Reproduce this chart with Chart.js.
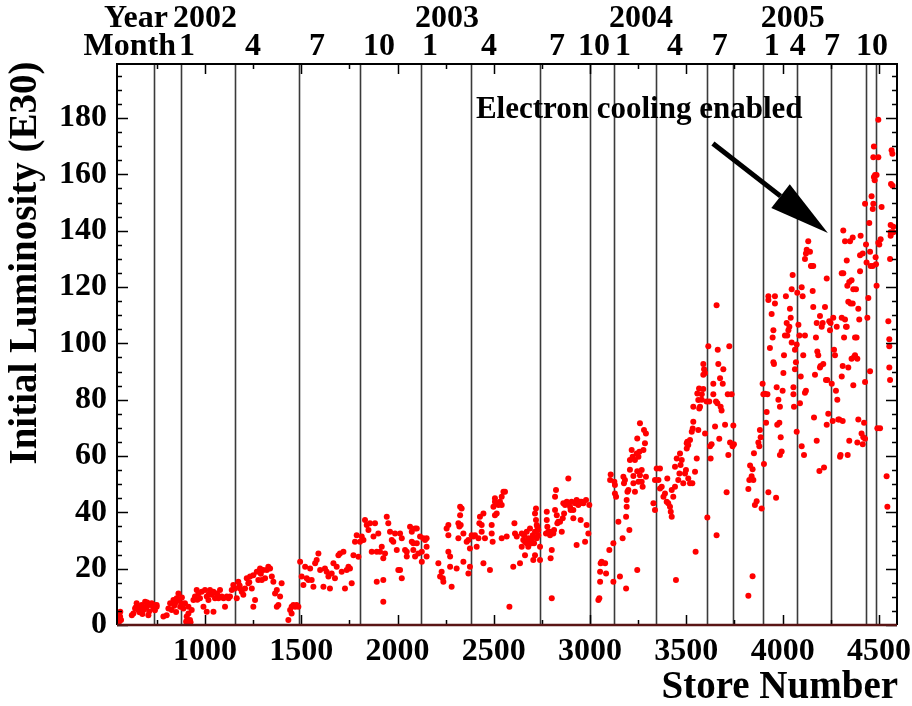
<!DOCTYPE html>
<html>
<head>
<meta charset="utf-8">
<script src="https://cdn.jsdelivr.net/npm/chart.js@4.4.1/dist/chart.umd.min.js"></script>
<style>
  html, body { margin: 0; padding: 0; background: #fff; }
</style>
</head>
<body>
<canvas id="lumChart" width="912" height="706"></canvas>
<script>
// Initial luminosity (E30) per store number as [store, lum]
// stores 550 - 1490
const storesEarly2002 = [
  [560,4.7],[559,3.0],[564,1.8],[555,1.2],
  [628,4.1],[637,5.9],[645,7.7],[654,5.3],[663,6.5],[671,7.1],[680,5.3],[689,8.3],[697,6.5],[706,3.5],
  [715,7.1],[723,7.7],[732,5.9],[749,6.5],[749,7.1],[620,3.5],[640,6.2],[660,4.5],[700,8.0],[740,7.0],
  [660,5.5],[690,6.0],[710,4.8],[675,3.9],[740,5.2],[700,7.4],
  [784,3.0],[801,3.5],[810,5.9],[819,7.7],[827,5.3],[836,8.9],[845,7.7],[853,9.5],[862,11.2],[871,6.5],
  [879,7.7],[888,5.9],[896,7.7],[905,3.0],[914,4.1],[922,1.8],[902,1.2],[931,5.3],[914,6.5],[905,0.8],[925,1.0],
  [840,6.8],[860,8.6],[880,9.8],[850,4.6],
  [940,8.9],[948,10.1],[957,12.4],[966,11.2],[974,9.5],[983,11.8],[992,6.5],[1000,12.4],[1009,10.1],[1018,8.9],
  [1026,12.4],[1035,10.7],[1044,11.8],[1052,9.5],[1061,11.2],[1070,9.5],[1078,12.4],[1087,10.1],[1096,9.5],
  [1104,6.5],[1113,10.1],[1122,9.5],[1130,10.1],[1009,4.7],[1044,4.7],[960,9.0],[1020,11.0],[1066,10.6],
  [1139,12.4],[1147,14.2],[1156,13.0],[1165,9.5],[1173,15.4],[1182,13.0],[1191,11.8],[1199,10.7],[1208,13.0],
  [1217,16.6],[1225,14.8],[1234,17.2],[1243,13.0],[1251,17.7],[1260,8.9],[1251,6.5],[1269,18.9],[1277,16.0],
  [1286,20.1],[1295,16.0],[1303,19.5],[1312,16.6],[1321,19.5],[1329,20.7],[1338,20.1],[1347,17.2],[1355,15.4],
  [1364,11.2],[1373,12.4],[1381,7.1],[1390,10.1],[1398,14.8],[1373,6.5],[1180,14.0],[1230,15.2],[1290,18.2],
  [1433,1.8],[1442,5.3],[1450,6.5],[1459,7.1],[1468,6.5],[1476,7.1],[1485,6.5],[1450,4.1]
];

// stores 1490 - 2010
const storesLate2002 = [
  [1494,22.5],[1502,17.2],[1511,14.2],[1520,20.7],[1528,16.6],[1537,16.0],[1546,20.1],[1554,16.0],[1563,13.6],
  [1572,21.9],[1580,23.1],[1589,25.4],[1598,19.5],[1615,13.6],[1623,20.1],[1632,18.9],[1641,17.2],[1649,13.0],
  [1658,18.3],[1667,21.9],[1675,16.6],[1684,20.7],[1693,24.8],[1701,25.4],[1710,18.9],[1719,26.0],[1727,13.0],
  [1736,19.5],[1745,20.7],[1753,20.1],[1762,14.8],[1771,24.8],[1779,29.6],[1788,31.9],[1797,24.2],[1805,29.6],
  [1814,31.4],[1823,30.2],[1831,37.3],[1840,35.5],[1849,33.7],[1857,36.1],[1866,26.0],[1875,31.4],[1883,36.1],
  [1892,26.0],[1900,32.5],[1909,26.0],[1918,27.8],[1926,23.7],[1935,25.4],[1944,38.4],[1952,36.1],[1961,33.1],
  [1970,30.2],[1978,29.6],[1987,32.5],[1996,26.6],[2004,19.5],[1892,15.4],[1926,16.0],[1926,8.3]
];

// stores 2010 - 3000
const stores2003 = [
  [2013,32.5],[2022,30.8],[2013,19.5],[2022,16.6],[2039,26.6],[2048,26.0],[2048,24.3],[2065,34.9],[2074,33.1],
  [2082,29.0],[2082,26.6],[2091,24.3],[2091,34.3],[2100,34.3],[2100,29.0],[2108,25.4],[2117,31.4],[2126,26.0],
  [2126,22.5],[2134,30.8],[2143,30.2],[2151,30.8],[2151,27.8],[2151,24.3],[2074,29.6],
  [2212,21.9],[2221,17.2],[2229,18.9],[2235,16.6],[2238,15.4],[2255,34.3],[2264,35.5],[2264,31.9],[2264,26.0],
  [2273,24.3],[2273,20.7],[2281,13.6],[2307,20.1],[2316,30.8],[2316,36.1],[2325,42.0],[2325,39.0],[2333,41.4],
  [2342,32.5],[2342,22.5],[2359,29.6],[2368,30.2],[2368,18.3],[2376,20.7],[2376,27.2],[2321,35.0],[2328,35.5],
  [2385,31.9],[2394,31.4],[2402,31.9],[2411,27.8],[2420,30.8],[2425,36.1],[2428,38.4],[2437,35.5],[2437,33.1],
  [2446,21.9],[2446,39.6],[2454,30.8],[2480,19.5],[2489,35.5],[2489,32.5],[2494,29.6],[2498,42.0],[2506,39.0],
  [2506,43.8],[2506,45.0],[2515,39.6],[2515,43.2],[2524,42.6],[2532,43.8],[2541,45.5],[2541,42.6],[2550,47.3],
  [2558,47.3],[2541,30.8],[2567,31.4],[2581,6.5],
  [2601,20.7],[2607,36.1],[2610,32.5],[2619,31.4],[2636,21.9],[2645,32.5],[2645,27.8],[2653,30.2],[2657,31.9],
  [2662,29.6],[2662,24.8],[2671,33.1],[2671,29.0],[2679,30.8],[2679,27.8],[2688,34.3],[2688,29.6],[2697,30.2],
  [2697,29.0],[2705,31.4],[2705,23.1],[2709,29.0],[2714,33.1],[2714,39.6],[2714,24.8],[2719,37.3],[2719,41.4],
  [2723,35.5],[2726,34.9],[2731,33.7],[2731,31.9],[2740,27.8],[2740,23.1],[2723,30.8],[2702,31.9],
  [2771,32.5],[2775,40.2],[2775,37.3],[2778,34.9],[2783,33.1],[2792,31.9],[2792,33.1],[2795,23.7],[2801,26.6],
  [2801,9.5],[2809,32.5],[2813,33.7],[2818,45.5],[2818,40.8],[2823,47.9],[2827,39.0],[2830,36.1],[2835,36.7],
  [2844,36.7],[2853,33.1],[2858,37.9],[2861,43.2],[2865,39.6],[2870,42.6],[2879,43.8],[2887,52.0],[2887,43.2],
  [2896,42.0],[2899,40.8],[2904,43.8],[2913,40.8],[2913,37.9],[2922,43.2],[2930,44.4],[2930,28.4],[2939,42.6],
  [2948,43.2],[2948,43.8],[2951,37.3],[2956,43.8],[2965,43.2],[2974,29.6],[2979,44.4],[2982,35.5],[2991,32.5],
  [2996,42.6]
];

// stores 3000 - 3750
const stores2004 = [
  [3043,8.9],[3048,9.5],[3052,15.4],[3052,18.9],[3055,21.9],[3060,22.5],[3078,21.9],[3083,18.3],[3100,26.6],
  [3107,53.4],[3104,51.5],[3121,29.0],[3121,15.4],[3126,50.9],[3129,49.7],[3129,46.7],[3135,45.5],[3147,36.7],
  [3155,17.2],[3169,30.8],[3173,52.6],[3176,50.3],[3181,51.5],[3187,13.0],[3187,38.4],[3190,42.0],[3190,44.4],
  [3194,47.3],[3199,47.9],[3204,33.7],[3207,55.1],[3207,58.6],[3216,62.1],[3221,59.7],[3225,52.9],[3225,50.3],
  [3233,58.6],[3233,47.3],[3242,60.9],[3245,54.6],[3245,66.2],[3251,50.9],[3251,59.7],[3256,61.5],[3259,53.2],
  [3259,71.6],[3268,55.0],[3273,49.1],[3277,62.1],[3280,69.2],[3285,64.5],[3290,52.6],[3290,68.0],[3245,19.5],
  [3268,50.9],
  [3329,43.2],[3337,40.8],[3337,51.5],[3346,55.6],[3355,51.5],[3363,55.6],[3363,48.5],[3372,49.1],[3381,45.5],
  [3389,46.7],[3398,43.8],[3401,52.0],[3406,43.2],[3415,42.0],[3419,40.2],[3424,38.4],[3424,47.9],[3432,45.5],
  [3441,49.1],[3441,56.2],[3446,16.0],[3450,59.1],[3458,51.5],[3464,53.8],[3467,60.9],[3470,56.8],[3476,58.6],
  [3484,50.3],[3493,53.8],[3498,55.0],[3502,64.5],[3505,65.1],[3510,63.9],[3510,52.0],[3519,50.3],[3528,68.6],
  [3531,50.3],[3533,69.8],[3536,72.2],[3536,77.5],[3545,54.4],[3548,26.0],[3554,59.1],[3557,82.2],[3562,79.9],
  [3566,84.0],[3567,76.9],[3562,69.2],[3519,65.7],[3502,62.7],
  [3571,77.5],[3580,80.0],[3580,81.9],[3588,83.8],[3588,92.7],[3592,90.8],[3597,89.5],[3588,88.9],[3597,68.0],
  [3605,79.4],[3609,38.2],[3614,99.0],[3619,79.4],[3623,63.5],[3626,59.1],[3631,64.2],[3640,85.7],[3640,81.9],
  [3649,70.5],[3654,79.4],[3657,113.5],[3657,31.9],[3661,78.7],[3663,97.7],[3666,92.7],[3671,66.1],[3675,87.6],
  [3678,77.5],[3683,76.2],[3689,85.7],[3692,90.8],[3701,71.1],[3709,47.1],[3715,81.9],[3718,60.4],[3723,99.0],
  [3727,64.8],[3735,81.9],[3740,63.5],[3744,70.8],[3747,64.2]
];

// stores 3800 - 4600
const stores2005 = [
  [3822,10.4],[3844,17.3],[3822,48.3],[3827,51.5],[3831,56.6],[3839,52.8],[3844,55.3],[3848,51.5],[3851,61.0],
  [3856,42.6],[3865,43.9],[3874,64.8],[3879,63.5],[3882,69.2],[3886,66.7],[3891,41.4],[3896,85.7],[3900,81.9],
  [3903,57.2],[3908,82.1],[3914,71.8],[3917,75.6],[3921,81.9],[3926,47.1],
  [3926,116.7],[3926,115.4],[3934,98.4],[3943,110.4],[3948,102.1],[3952,104.7],[3952,93.3],[3955,92.7],
  [3960,116.7],[3960,114.2],[3966,45.2],[3969,84.4],[3972,71.1],[3978,80.0],[3983,71.8],[3986,77.5],[3986,60.4],
  [3990,66.7],[3995,61.6],[4000,83.2],[4004,89.5],[4007,95.8],[4012,102.8],[4017,116.7],[4021,107.2],[4024,102.8],
  [4030,104.7],[4035,105.9],[4038,112.3],[4042,109.1],[4047,119.2],[4047,100.3],[4052,124.3],[4056,84.4],
  [4056,81.9],[4059,77.5],[4064,97.7],[4064,90.8],[4069,93.3],[4073,68.6],[4073,99.6],[4076,118.0],[4082,106.6],
  [4087,102.8],[4090,78.7],[4094,88.2],[4099,119.9],[4099,63.5],[4104,116.7],[4107,95.8],[4111,60.4],[4116,102.8],
  [4116,82.5],[4121,83.2],
  [4116,130.0],[4121,131.9],[4125,133.2],[4133,136.3],[4142,132.5],[4147,127.5],[4151,127.5],[4156,118.6],
  [4159,112.9],[4159,127.5],[4163,73.7],[4168,88.9],[4173,102.1],[4177,107.2],[4177,65.4],[4180,97.1],[4185,95.8],
  [4191,54.7],[4194,109.7],[4194,91.4],[4197,92.0],[4203,105.9],[4208,107.2],[4211,92.7],[4215,55.9],[4220,112.9],
  [4225,87.0],[4229,71.1],[4229,123.0],[4232,87.0],[4237,75.0],[4242,107.9],[4246,104.7],[4249,107.2],[4255,85.7],
  [4260,72.4],[4263,109.1],[4267,97.7],[4272,95.8],[4277,83.2],[4281,105.9],[4284,80.0],[4289,73.0],[4294,73.0],
  [4298,59.7],[4301,60.4],[4307,109.1],[4312,72.4],[4315,124.9],[4319,102.1],[4324,108.5],[4329,105.9],
  [4333,105.9],[4307,88.2],[4312,92.0],
  [4307,124.9],[4315,140.1],[4324,136.3],[4333,129.4],[4336,120.5],[4341,114.8],[4346,121.8],[4350,136.3],
  [4353,114.2],[4358,122.4],[4364,137.6],[4367,119.2],[4371,95.2],[4376,95.8],[4381,119.2],[4384,102.1],
  [4388,94.5],[4393,112.3],[4398,108.5],[4402,125.6],[4402,131.3],[4405,138.2],[4410,68.0],[4416,64.2],
  [4419,66.7],[4423,71.8],[4428,86.3],[4388,64.8],[4393,73.0],[4428,66.1],[4416,131.9],[4338,60.4],[4346,65.4],
  [4364,114.2],[4376,102.1],[4367,85.1],[4358,94.5],[4341,91.4],
  [4428,149.6],[4433,135.1],[4436,128.7],[4440,109.1],[4445,116.1],[4450,142.7],[4454,132.5],[4454,90.1],
  [4457,127.5],[4462,152.2],[4468,147.7],[4468,127.5],[4471,149.6],[4471,166.1],[4474,159.1],[4474,169.9],
  [4478,157.9],[4480,159.8],[4483,130.6],[4485,128.1],[4488,159.8],[4488,120.5],[4492,69.9],[4497,179.4],
  [4497,166.1],[4497,135.7],[4502,135.1],[4506,69.9],[4509,137.0],[4514,148.4],[4540,52.8],[4544,42.0],
  [4549,107.9],[4554,101.5],[4554,99.0],[4554,91.4],[4558,87.0],[4558,130.0],[4561,138.2],[4561,139.5],
  [4563,156.6],[4566,168.6],[4570,167.3],[4571,156.0],[4575,141.4],[4575,139.5],[4561,142.0]
];

// vertical marker lines (store numbers at month boundaries)
const monthLineStores = [735, 875, 1156, 1488, 1805, 2122, 2381, 2740, 2999, 3124, 3342, 3607, 3742, 3898, 4074, 4251, 4433, 4484];

// top header labels
const monthLabelStores = [907, 1249, 1582, 1904, 2168, 2475, 2828, 3020, 3171, 3441, 3674, 3944, 4079, 4256, 4464];
const monthLabels = ["1", "4", "7", "10", "1", "4", "7", "10", "1", "4", "7", "1", "4", "7", "10"];
const yearLabelStores = [1000, 2257, 3264, 4053];
const yearLabels = ["2002", "2003", "2004", "2005"];

// axis ticks
const xTickValues = [1000, 1500, 2000, 2500, 3000, 3500, 4000, 4500];
const yTickValues = [0, 20, 40, 60, 80, 100, 120, 140, 160, 180];

// annotation
const noteText = "Electron cooling enabled";
const notePos = [2407, 183];
const arrowFrom = [3638, 171];
const arrowTo = [4235, 139.2];

const FONT = "'Liberation Serif', 'Times New Roman', serif";

const allPoints = [].concat(storesEarly2002, storesLate2002, stores2003, stores2004, stores2005)
  .map(p => ({ x: p[0], y: p[1] }));

// vertical month lines behind the points
const monthLinesPlugin = {
  id: "monthLines",
  beforeDatasetsDraw(chart) {
    const { ctx, chartArea } = chart;
    const xs = chart.scales.x;
    ctx.save();
    ctx.strokeStyle = "#3a3a3a";
    ctx.lineWidth = 1.6;
    monthLineStores.forEach(s => {
      const px = Math.round(xs.getPixelForValue(s)) + 0.5;
      ctx.beginPath();
      ctx.moveTo(px, chartArea.top);
      ctx.lineTo(px, chartArea.bottom);
      ctx.stroke();
    });
    ctx.restore();
  }
};

// frame with inward ticks on all four sides
const framePlugin = {
  id: "frame",
  afterDatasetsDraw(chart) {
    const { ctx, chartArea } = chart;
    const xs = chart.scales.x, ys = chart.scales.y;
    const { left, right, top, bottom } = chartArea;
    ctx.save();
    ctx.strokeStyle = "#000";
    ctx.lineWidth = 1.5;
    for (let v = 0; v <= 195; v += 5) {
      const py = Math.round(ys.getPixelForValue(v)) + 0.5;
      const len = v % 20 === 0 ? 11 : 5;
      ctx.beginPath();
      ctx.moveTo(left, py); ctx.lineTo(left + len, py);
      ctx.moveTo(right, py); ctx.lineTo(right - len, py);
      ctx.stroke();
    }
    for (let v = 750; v <= 4500; v += 250) {
      const px = Math.round(xs.getPixelForValue(v)) + 0.5;
      const len = v % 500 === 0 ? 10 : 5;
      ctx.beginPath();
      ctx.moveTo(px, bottom); ctx.lineTo(px, bottom - len);
      ctx.moveTo(px, top); ctx.lineTo(px, top + len);
      ctx.stroke();
    }
    ctx.lineWidth = 2;
    ctx.beginPath();
    ctx.moveTo(left, bottom); ctx.lineTo(left, top); ctx.lineTo(right, top); ctx.lineTo(right, bottom);
    ctx.stroke();
    ctx.strokeStyle = "#5a1515";
    ctx.lineWidth = 2.5;
    ctx.beginPath();
    ctx.moveTo(left, bottom); ctx.lineTo(right, bottom);
    ctx.stroke();
    ctx.restore();
  }
};

// header labels, titles, arrow annotation
const textPlugin = {
  id: "texts",
  afterDraw(chart) {
    const { ctx, chartArea } = chart;
    const xs = chart.scales.x, ys = chart.scales.y;
    ctx.save();
    ctx.fillStyle = "#000";
    ctx.textBaseline = "middle";

    ctx.font = "bold 32px " + FONT;
    ctx.textAlign = "right";
    ctx.fillText("Year", 168, 19);
    ctx.fillText("Month", 176, 47);
    ctx.textAlign = "center";
    yearLabels.forEach((t, i) => ctx.fillText(t, xs.getPixelForValue(yearLabelStores[i]), 19));
    monthLabels.forEach((t, i) => ctx.fillText(t, xs.getPixelForValue(monthLabelStores[i]), 47));

    // axis titles
    ctx.font = "bold 39px " + FONT;
    ctx.textAlign = "right";
    ctx.fillText("Store Number", chartArea.right + 1, 688);
    ctx.save();
    ctx.translate(26, 263);
    ctx.rotate(-Math.PI / 2);
    ctx.textAlign = "center";
    ctx.fillText("Initial Luminosity (E30)", 0, 0);
    ctx.restore();

    // annotation text
    ctx.font = "bold 31px " + FONT;
    ctx.textAlign = "left";
    ctx.fillText(noteText, xs.getPixelForValue(notePos[0]), ys.getPixelForValue(notePos[1]));

    // arrow
    const x0 = xs.getPixelForValue(arrowFrom[0]), y0 = ys.getPixelForValue(arrowFrom[1]);
    const x1 = xs.getPixelForValue(arrowTo[0]), y1 = ys.getPixelForValue(arrowTo[1]);
    const ang = Math.atan2(y1 - y0, x1 - x0);
    const headLen = 60, headHalf = 15;
    const bx = x1 - headLen * Math.cos(ang), by = y1 - headLen * Math.sin(ang);
    ctx.strokeStyle = "#000";
    ctx.lineWidth = 5;
    ctx.beginPath();
    ctx.moveTo(x0, y0);
    ctx.lineTo(bx, by);
    ctx.stroke();
    ctx.beginPath();
    ctx.moveTo(x1, y1);
    ctx.lineTo(bx + headHalf * Math.sin(ang), by - headHalf * Math.cos(ang));
    ctx.lineTo(bx - headHalf * Math.sin(ang), by + headHalf * Math.cos(ang));
    ctx.closePath();
    ctx.fill();
    ctx.restore();
  }
};

const ctx = document.getElementById("lumChart");
if (typeof Chart !== "undefined") {
  new Chart(ctx.getContext("2d"), {
    type: "scatter",
    data: {
      datasets: [{
        label: "Initial Luminosity",
        data: allPoints,
        backgroundColor: "#ff0000",
        borderColor: "#ff0000",
        borderWidth: 0,
        pointRadius: 3,
        pointHoverRadius: 3
      }]
    },
    options: {
      responsive: false,
      animation: false,
      devicePixelRatio: 1,
      layout: { padding: { top: 64, right: 15, left: 0, bottom: 0 } },
      plugins: { legend: { display: false }, tooltip: { enabled: false } },
      scales: {
        x: {
          type: "linear",
          position: "bottom",
          min: 543,
          max: 4594,
          afterBuildTicks: s => { s.ticks = xTickValues.map(v => ({ value: v })); },
          afterFit: s => { s.height = 81; s.paddingLeft = 0; s.paddingRight = 0; },
          grid: { display: false, drawTicks: false },
          border: { display: false },
          ticks: {
            autoSkip: false,
            maxRotation: 0,
            padding: 8,
            color: "#000",
            font: { family: FONT, size: 32, weight: "bold" },
            callback: v => String(v)
          }
        },
        y: {
          type: "linear",
          min: 0,
          max: 199.2,
          afterBuildTicks: s => { s.ticks = yTickValues.map(v => ({ value: v })); },
          afterFit: s => { s.width = 117; s.paddingTop = 0; s.paddingBottom = 0; },
          grid: { display: false, drawTicks: false },
          border: { display: false },
          ticks: {
            autoSkip: false,
            padding: 10,
            color: "#000",
            font: { family: FONT, size: 32, weight: "bold" },
            callback: v => String(v)
          }
        }
      }
    },
    plugins: [monthLinesPlugin, framePlugin, textPlugin]
  });
} else {
  console.warn("Chart.js is not loaded; skipping chart");
}
</script>
</body>
</html>
